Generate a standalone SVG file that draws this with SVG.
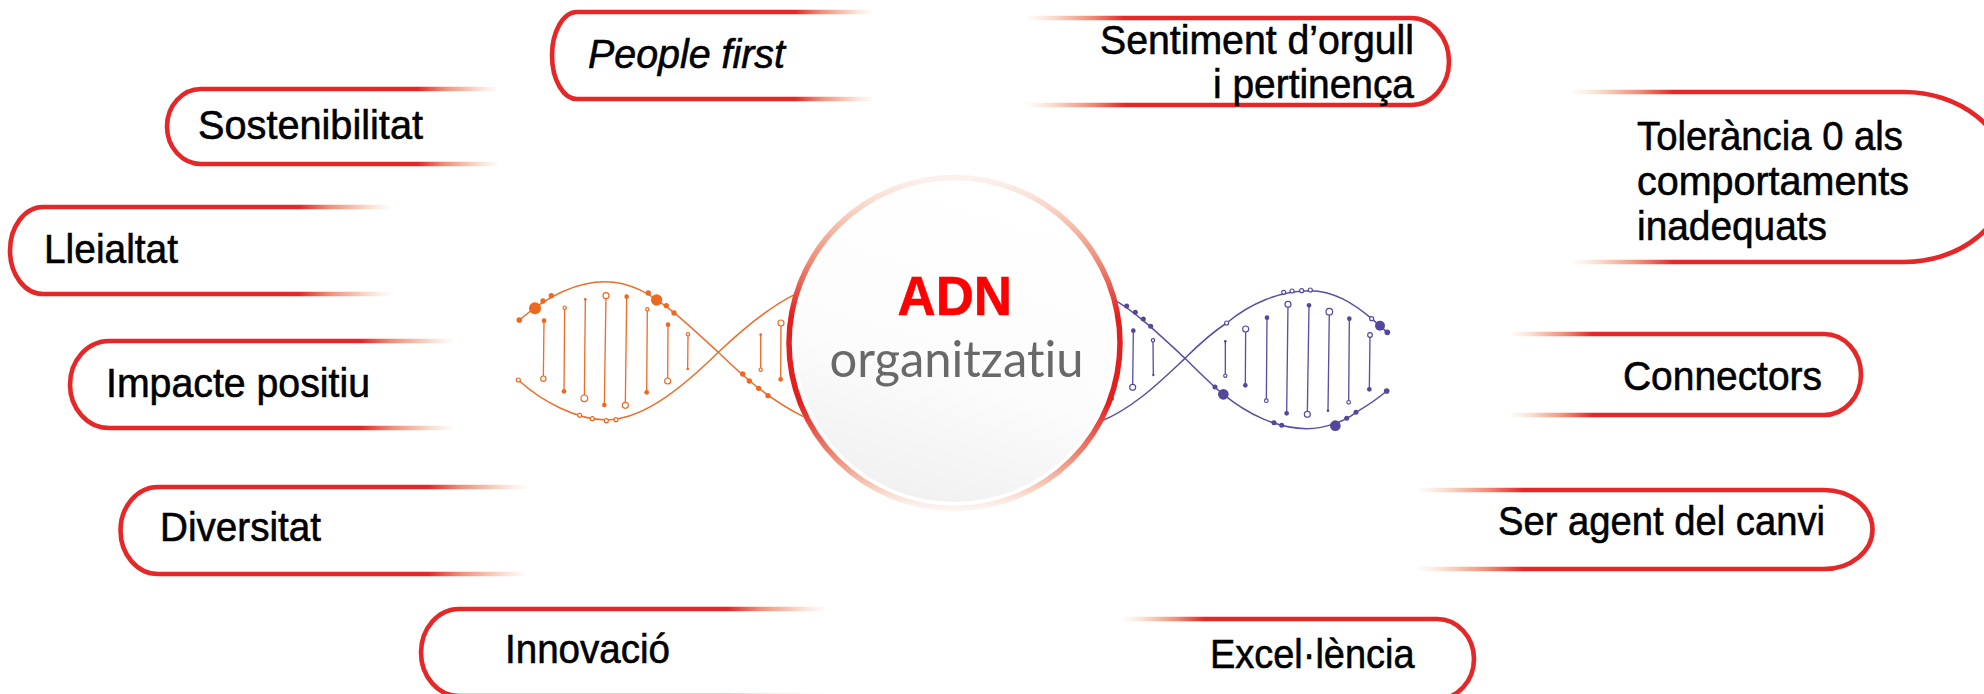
<svg xmlns="http://www.w3.org/2000/svg" width="1984" height="694" viewBox="0 0 1984 694">
<style>
text{font-family:"Liberation Sans",Arial,sans-serif;font-size:41.500px;fill:#000;stroke:#000;stroke-width:.6px}
.pl{fill:none;stroke:url(#fadeR);stroke-width:4.600}
.pr{fill:none;stroke:url(#fadeL);stroke-width:4.600}
.strand{fill:none;stroke-width:4.500}
.rung{stroke-width:4;fill:none}
.or .strand,.or .rung{stroke:#EC6E2B}
.or .f{fill:#EE6820}
.or .o{fill:#fff;stroke:#EE6820;stroke-width:3.500}
.pu .strand,.pu .rung{stroke:#5A4FA2}
.pu .f{fill:#54479E}
.pu .o{fill:#fff;stroke:#54479E;stroke-width:3.500}
</style>
<defs>
<linearGradient id="fadeR" x1="0" y1="0" x2="1" y2="0">
<stop offset="0" stop-color="#E62727"/><stop offset=".76" stop-color="#E62727"/><stop offset=".84" stop-color="#F08E78"/><stop offset=".93" stop-color="#F8D3C2"/><stop offset="1" stop-color="#FBE6DB" stop-opacity=".2"/>
</linearGradient>
<linearGradient id="fadeL" x1="1" y1="0" x2="0" y2="0">
<stop offset="0" stop-color="#E62727"/><stop offset=".77" stop-color="#E62727"/><stop offset=".85" stop-color="#F08E78"/><stop offset=".93" stop-color="#F8D3C2"/><stop offset="1" stop-color="#FBE6DB" stop-opacity=".2"/>
</linearGradient>
<linearGradient id="ring" x1="0" y1="0" x2="0" y2="1">
<stop offset="0" stop-color="#F8E4DA" stop-opacity=".5"/><stop offset=".12" stop-color="#F7C9B6"/><stop offset=".26" stop-color="#EE8873"/><stop offset=".42" stop-color="#E3201F"/><stop offset=".68" stop-color="#E3201F"/><stop offset=".84" stop-color="#EE8873"/><stop offset=".95" stop-color="#F9D8C9"/><stop offset="1" stop-color="#F9E8E0" stop-opacity=".5"/>
</linearGradient>
<linearGradient id="disc" x1=".7" y1="0" x2=".4" y2="1">
<stop offset="0" stop-color="#fff"/><stop offset=".6" stop-color="#FCFCFC"/><stop offset="1" stop-color="#F1F1F1"/>
</linearGradient>
</defs>

<g id="dna-left" class="or" transform="translate(480 160) scale(.33333)">
<path class="strand" d="M118 480C200 410 290 365 375 365C450 365 510 400 582 458C630 498 680 545 715 577C780 640 860 715 970 770"/>
<path class="strand" d="M115 660C180 720 290 782 385 780C500 775 620 670 715 577C780 515 860 445 945 403"/>
<g class="rung">
<path d="M192 482L190 656M254 443L252 694M316 418L313 715M378 407L373 735M440 410L436 736M502 448L500 697M564 494L563 663M624 523L623 627M842 524L842 629M903 489L902 658"/>
</g>
<g class="f">
<circle cx="192" cy="482" r="7"/><circle cx="252" cy="694" r="7"/><circle cx="316" cy="418" r="4"/><circle cx="373" cy="735" r="7"/><circle cx="440" cy="410" r="7"/><circle cx="500" cy="697" r="7"/><circle cx="564" cy="494" r="7"/><circle cx="623" cy="627" r="4"/><circle cx="842" cy="524" r="4"/><circle cx="902" cy="658" r="7"/>
<circle cx="118" cy="480" r="8.500"/><circle cx="165" cy="445" r="18"/><circle cx="189" cy="423" r="8"/><circle cx="214" cy="407" r="8"/><circle cx="505" cy="399" r="8"/><circle cx="530" cy="420" r="17"/><circle cx="559" cy="437" r="8"/><circle cx="582" cy="459" r="8"/><circle cx="788" cy="642" r="8"/><circle cx="808" cy="663" r="8"/><circle cx="836" cy="685" r="8"/><circle cx="864" cy="707" r="8"/>
</g>
<g class="o">
<circle cx="190" cy="656" r="8"/><circle cx="254" cy="443" r="5"/><circle cx="313" cy="715" r="10"/><circle cx="378" cy="407" r="9"/><circle cx="436" cy="736" r="9"/><circle cx="502" cy="448" r="5"/><circle cx="563" cy="663" r="9"/><circle cx="624" cy="523" r="5"/><circle cx="842" cy="629" r="5"/><circle cx="903" cy="489" r="9"/>
<circle cx="115" cy="660" r="6"/><circle cx="299" cy="766" r="6"/><circle cx="337" cy="776" r="6"/><circle cx="379" cy="782" r="6"/><circle cx="408" cy="779" r="6"/>
</g>
</g>

<g id="dna-right" class="pu" transform="translate(1000 160) scale(.33333)">
<path class="strand" d="M340 418C400 450 480 525 555 595C600 640 640 680 670 703C740 760 830 806 920 806C980 806 1040 780 1068 757C1105 735 1135 715 1160 693"/>
<path class="strand" d="M300 785C400 745 480 665 555 595C590 560 640 515 680 489C750 430 840 392 930 392C1000 392 1060 430 1115 476L1162 517"/>
<g class="rung">
<path d="M400 512L398 682M459 541L460 645M676 544L676 647M737 507L736 676M801 473L799 722M864 433L860 760M927 436L922 763M988 455L984 752M1048 476L1046 727M1110 525L1108 688"/>
</g>
<g class="f">
<circle cx="400" cy="512" r="7"/><circle cx="460" cy="645" r="3.500"/><circle cx="676" cy="544" r="4"/><circle cx="736" cy="676" r="7"/><circle cx="801" cy="473" r="7"/><circle cx="860" cy="760" r="7"/><circle cx="927" cy="436" r="7"/><circle cx="984" cy="752" r="4"/><circle cx="1048" cy="476" r="7"/><circle cx="1108" cy="688" r="7"/>
<circle cx="380" cy="438" r="7.500"/><circle cx="406" cy="457" r="7.500"/><circle cx="430" cy="477" r="7.500"/><circle cx="452" cy="499" r="7.500"/><circle cx="336" cy="716" r="6"/><circle cx="645" cy="681" r="7.500"/><circle cx="670" cy="703" r="16"/><circle cx="822" cy="788" r="7.500"/><circle cx="845" cy="796" r="7.500"/><circle cx="1006" cy="797" r="16"/><circle cx="1040" cy="775" r="7.500"/><circle cx="1068" cy="757" r="7.500"/><circle cx="1160" cy="693" r="8.500"/><circle cx="1140" cy="497" r="15"/><circle cx="1162" cy="517" r="8.500"/>
</g>
<g class="o">
<circle cx="398" cy="682" r="9"/><circle cx="459" cy="541" r="5"/><circle cx="676" cy="647" r="5"/><circle cx="737" cy="507" r="9"/><circle cx="799" cy="722" r="5.500"/><circle cx="864" cy="433" r="9"/><circle cx="922" cy="763" r="9"/><circle cx="988" cy="455" r="10"/><circle cx="1046" cy="727" r="5.500"/><circle cx="1110" cy="525" r="7"/>
<circle cx="680" cy="489" r="6"/><circle cx="851" cy="397" r="6"/><circle cx="876" cy="393" r="6"/><circle cx="905" cy="392" r="6"/><circle cx="931" cy="390" r="6"/><circle cx="1115" cy="476" r="6"/>
</g>
</g>

<g id="center">
<circle cx="954.500" cy="343" r="165.500" fill="#fff" stroke="url(#ring)" stroke-width="5.500"/>
<circle cx="954.500" cy="343" r="159" fill="url(#disc)"/>
<text x="897.500" y="315" font-weight="700" textLength="114.500" lengthAdjust="spacingAndGlyphs" style="font-size:55px;fill:#FF0000;stroke:#FF0000;stroke-width:.6px">ADN</text>
<text x="829.500" y="377" textLength="254" lengthAdjust="spacingAndGlyphs" style="font-family:Lato,'Open Sans',sans-serif;font-size:50px;fill:#696969;stroke:none;font-variant-ligatures:none">organitzatiu</text>
</g>

<g id="people-first"><path class="pl" d="M872 12H577A25 43.500 0 0 0 577 99H872"/>
<text x="588" y="68" font-style="italic" textLength="197" lengthAdjust="spacingAndGlyphs">People first</text></g>
<g id="sostenibilitat"><path class="pl" d="M497 89H201A34 37.500 0 0 0 201 164H497"/>
<text x="198" y="139" textLength="225" lengthAdjust="spacingAndGlyphs">Sostenibilitat</text></g>
<g id="lleialtat"><path class="pl" d="M390 207H43A33 43.500 0 0 0 43 294H390"/>
<text x="44" y="263" textLength="134" lengthAdjust="spacingAndGlyphs">Lleialtat</text></g>
<g id="impacte-positiu"><path class="pl" d="M453 341H109A39 43.500 0 0 0 109 428H453"/>
<text x="106" y="397" textLength="264" lengthAdjust="spacingAndGlyphs">Impacte positiu</text></g>
<g id="diversitat"><path class="pl" d="M525 487H158A37.500 43.500 0 0 0 158 574H525"/>
<text x="160" y="541" textLength="161" lengthAdjust="spacingAndGlyphs">Diversitat</text></g>
<g id="innovacio"><path class="pl" d="M824 609H459A38 43.500 0 0 0 459 696H824"/>
<text x="505" y="663" textLength="165" lengthAdjust="spacingAndGlyphs">Innovació</text></g>

<g id="sentiment"><path class="pr" d="M1028 18H1411A38 43.500 0 0 1 1411 105H1028"/>
<text x="1100" y="54" textLength="314" lengthAdjust="spacingAndGlyphs">Sentiment d’orgull</text>
<text x="1213" y="98" textLength="201" lengthAdjust="spacingAndGlyphs">i pertinença</text></g>
<g id="tolerancia"><path class="pr" d="M1574 92H1904A104 85 0 0 1 1904 262H1574"/>
<text x="1637" y="150" textLength="266" lengthAdjust="spacingAndGlyphs">Tolerància 0 als</text>
<text x="1637" y="195" textLength="272" lengthAdjust="spacingAndGlyphs">comportaments</text>
<text x="1637" y="240" textLength="190" lengthAdjust="spacingAndGlyphs">inadequats</text></g>
<g id="connectors"><path class="pr" d="M1512 334H1824A37 40.500 0 0 1 1824 415H1512"/>
<text x="1623" y="390" textLength="199" lengthAdjust="spacingAndGlyphs">Connectors</text></g>
<g id="ser-agent"><path class="pr" d="M1419 490H1824A48.500 39.500 0 0 1 1824 569H1419"/>
<text x="1498" y="535" textLength="327" lengthAdjust="spacingAndGlyphs">Ser agent del canvi</text></g>
<g id="excellencia"><path class="pr" d="M1124 619H1437A37 40 0 0 1 1437 699H1124"/>
<text x="1210" y="668" textLength="204.500" lengthAdjust="spacingAndGlyphs">Excel·lència</text></g>
</svg>
